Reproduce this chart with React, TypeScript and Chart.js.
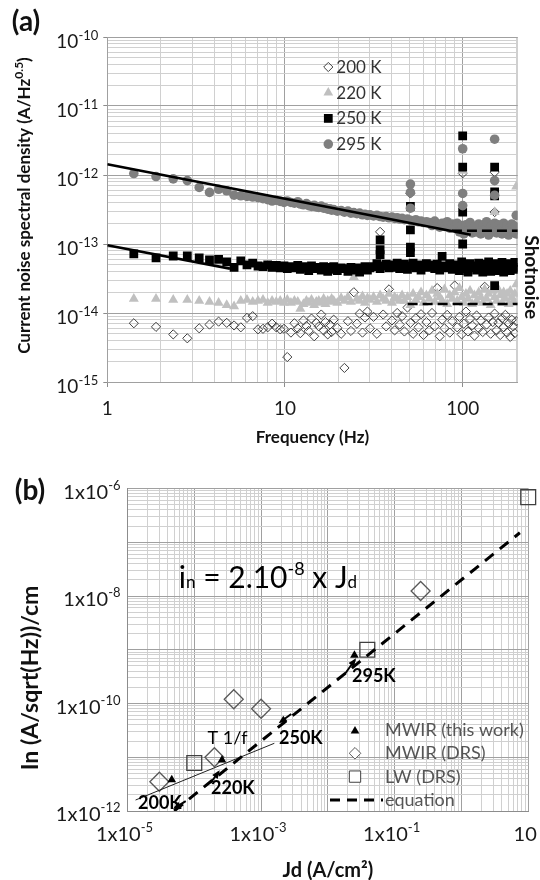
import React, { useEffect, useRef } from 'react';
import { Chart, registerables } from 'chart.js';

Chart.register(...registerables);

const FAMILY = 'Lato, "Open Sans", "DejaVu Sans", sans-serif';

// ---------------- Panel (a) : current noise spectral density ----------------
const FREQ_HZ = [
  1.41, 1.88, 2.35, 2.82, 3.29, 3.76, 4.23, 4.70, 5.17, 5.64,
  6.11, 6.58, 7.05, 7.52, 7.99, 8.46, 8.93, 9.40, 9.87, 10.3,
  10.8, 11.3, 11.8, 12.2, 12.7, 13.2, 13.6, 14.1, 14.6, 15.0,
  15.5, 16.0, 16.5, 16.9, 17.4, 17.9, 18.3, 18.8, 19.7, 20.7,
  21.6, 22.6, 23.5, 24.4, 25.4, 26.3, 27.3, 28.2, 29.1, 30.1,
  31.5, 32.9, 34.3, 35.7, 37.1, 38.5, 40.0, 41.4, 42.8, 44.2,
  45.6, 47.0, 48.9, 50.8, 52.6, 54.5, 56.4, 58.3, 60.2, 62.5,
  64.9, 67.2, 69.6, 71.9, 74.3, 76.6, 79.0, 81.8, 84.6, 87.4,
  90.2, 93.1, 95.9, 98.7, 101.5, 104.3, 107.1, 110.0, 113.2, 116.5,
  119.8, 123.1, 126.4, 129.7, 133.0, 136.3, 140.0, 143.8, 147.6, 151.3,
  155.1, 158.8, 162.6, 166.4, 170.1, 173.9, 177.7, 181.4, 185.2, 189.0,
  192.7, 196.5, 200.2,
];

// values in fA/Hz^0.5 (1e-15 A/Hz^0.5)
const NOISE_295K_FA = [
  1050, 950, 880, 830, 660, 560, 620, 590, 510, 500,
  490, 480, 470, 455, 440, 420, 430, 415, 400, 420,
  400, 390, 410, 380, 370, 385, 360, 350, 365, 345,
  340, 355, 330, 335, 320, 325, 310, 315, 300, 305,
  290, 300, 280, 285, 275, 280, 265, 270, 260, 265,
  255, 260, 250, 245, 250, 240, 245, 235, 240, 230,
  235, 225, 230, 220, 215, 225, 210, 215, 205, 210,
  205, 185, 215, 190, 175, 200, 180, 210, 170, 195,
  175, 200, 150, 185, 140, 190, 160, 205, 145, 180,
  150, 195, 140, 185, 160, 210, 135, 180, 155, 200,
  145, 190, 165, 140, 200, 155, 185, 135, 175, 195,
  150, 180, 140,
];
const NOISE_250K_FA = [
  72, 63, 67, 67, 63, 59, 60, 55, 46, 57,
  50, 53, 48, 47, 50, 46, 49, 45, 48, 44,
  47, 45, 49, 43, 47, 45, 41, 48, 44, 46,
  45, 42, 47, 44, 40, 46, 43, 47, 41, 45,
  44, 40, 46, 42, 45, 39, 44, 47, 42, 45,
  47, 52, 44, 48, 51, 45, 50, 46, 53, 44,
  49, 51, 43, 48, 53, 45, 50, 42, 49, 52,
  46, 50, 44, 51, 42, 66, 48, 45, 52, 43,
  50, 46, 41, 55, 44, 49, 39, 52, 45, 48,
  42, 53, 47, 39, 51, 44, 55, 40, 49, 46,
  52, 41, 48, 54, 39, 50, 44, 52, 41, 50,
  46, 54, 43,
];
const NOISE_220K_FA = [
  16, 16, 15.5, 15.5, 15, 14.5, 14, 13, 12.5, 15,
  15.5, 14.5, 15, 15.5, 14, 15, 14.5, 15, 14, 15.5,
  14, 15, 14.5, 11.5, 13.5, 15, 14, 15.5, 13, 14.5,
  15, 14, 16, 13.5, 15, 14.5, 16, 15, 14, 16.5,
  15, 17, 14.5, 33, 16, 15, 17.5, 14, 16.5, 15.5,
  17, 14.5, 18, 16, 15, 19, 14, 17, 16, 15,
  18, 15, 17, 13, 19, 15.5, 17, 20, 14, 18,
  16, 21, 14.5, 19, 17, 15, 22, 13.5, 18, 16,
  20, 15, 23, 17, 14, 19, 16, 21, 13.5, 18,
  15, 20, 17, 14, 22, 16, 19, 13, 21, 17,
  15, 22, 18, 14, 20, 16, 19, 13.5, 21, 17,
  15, 19, 26,
];
const NOISE_200K_FA = [
  7.1, 6.3, 4.9, 4.3, 6.0, 6.8, 7.5, 7.2, 6.6, 6.2,
  8.5, 9.0, 5.8, 5.9, 6.2, 7.0, 6.2, 5.8, 5.9, 2.3,
  5.2, 7.1, 6.0, 5.1, 7.8, 6.5, 5.5, 8.3, 4.6, 7.2,
  6.4, 9.5, 5.6, 7.4, 4.9, 6.8, 5.3, 8.0, 6.1, 5.0,
  1.6, 7.6, 5.5, 20, 7.0, 9.8, 5.2, 8.6, 10.5, 6.0,
  8.8, 5.0, 150, 9.5, 6.4, 22, 7.8, 5.6, 10, 6.8,
  9.0, 5.4, 12, 7.2, 5.0, 8.4, 6.2, 9.6, 4.8, 7.4,
  5.6, 10, 6.4, 23, 4.6, 8.0, 6.0, 9.4, 5.2, 7.6,
  25, 6.2, 8.8, 4.9, 7.0, 10.5, 5.4, 8.2, 6.6, 4.7,
  9.2, 6.0, 7.8, 5.3, 24, 6.8, 8.6, 5.0, 7.4, 9.8,
  5.6, 7.2, 4.8, 8.4, 6.2, 9.4, 5.2, 7.0, 4.5, 8.0,
  6.4, 5.1, 7.6,
];

// mains-harmonic spikes (Hz, fA/Hz^0.5)
const SPIKE_200K_HZ = [50.8, 100, 151.3, 151.3];
const SPIKE_200K_FA = [540, 1060, 290, 1100];
const SPIKE_220K_HZ = [100, 151.3, 200.2];
const SPIKE_220K_FA = [1150, 290, 680];
const SPIKE_250K_HZ = [34.3, 34.3, 34.3, 50.8, 50.8, 50.8, 50.8, 100, 100, 100, 100, 151.3, 151.3, 151.3, 151.3];
const SPIKE_250K_FA = [115, 83, 70, 350, 160, 90, 75, 3700, 1300, 290, 100, 1300, 570, 500, 25];
const SPIKE_295K_HZ = [50.8, 50.8, 50.8, 100, 100, 100, 151.3, 151.3, 151.3, 200.2];
const SPIKE_295K_FA = [740, 560, 330, 2400, 540, 360, 3300, 830, 510, 260];

// fit lines (Hz, A/Hz^0.5)
const FIT_295K_HZ = [1, 111];
const FIT_295K_A = [1.43e-12, 1.36e-13];
const FIT_250K_HZ = [1, 4.9];
const FIT_250K_A = [9.6e-14, 4.4e-14];
const SHOT_295K_HZ = [87, 204];
const SHOT_295K_A = [1.55e-13, 1.55e-13];
const SHOT_220K_HZ = [49, 204];
const SHOT_220K_A = [1.35e-14, 1.35e-14];

const A_LEGEND = ['200 K', '220 K', '250 K', '295 K'];
const A_X_TICKS = [1, 10, 100];
const A_X_LABELS = ['1', '10', '100'];
const A_Y_TICKS = [1e-10, 1e-11, 1e-12, 1e-13, 1e-14, 1e-15];
const A_Y_EXPONENTS = ['-10', '-11', '-12', '-13', '-14', '-15'];
const A_SHOTNOISE_Y = 3.3e-14;

// ---------------- Panel (b) : noise vs dark current ----------------
const B_MWIR_THIS_JD = [4.6e-5, 2.6e-4, 2.5e-2];
const B_MWIR_THIS_IN = [3.8e-12, 8.9e-12, 7.9e-10];
const B_MWIR_DRS_JD = [3.0e-5, 2.0e-4, 3.9e-4, 1.0e-3, 0.245];
const B_MWIR_DRS_IN = [3.5e-12, 1.0e-11, 1.2e-10, 8.0e-11, 1.24e-8];
const B_LW_DRS_JD = [1.0e-4, 0.039, 10];
const B_LW_DRS_IN = [7.8e-12, 1.0e-9, 6.9e-7];
const B_EQ_JD = [5e-5, 7.5];
const B_EQ_IN = [1e-12, 1.5e-7];
const B_T1F_JD = [1.32e-5, 1.58e-3];
const B_T1F_IN = [1.6e-12, 1.82e-11];

const B_LEGEND = ['MWIR (this work)', 'MWIR (DRS)', 'LW (DRS)', 'equation'];
const B_X_TICKS = [1e-5, 1e-3, 1e-1, 10];
const B_X_BASES = ['1x10', '1x10', '1x10', '10'];
const B_X_EXPONENTS = ['-5', '-3', '-1', ''];
const B_Y_TICKS = [1e-6, 1e-8, 1e-10, 1e-12];
const B_Y_EXPONENTS = ['-6', '-8', '-10', '-12'];

const B_TEMP_LABELS = ['200K', '220K', '250K', '295K'];
const B_TEMP_LABEL_JD = [3.05e-5, 3.78e-4, 3.94e-3, 0.0489];
const B_TEMP_LABEL_IN = [1.49e-12, 2.83e-12, 2.4e-11, 3.4e-10];
const B_ARROW_TAIL_JD = [7.45e-5, 1.75e-4, 2.83e-3, 0.018];
const B_ARROW_TAIL_IN = [1.53e-12, 3.32e-12, 6.38e-11, 3.54e-10];
const B_ARROW_HEAD_JD = [5.1e-5, 2.31e-4, 1.94e-3, 0.0254];
const B_ARROW_HEAD_IN = [1.14e-12, 5.32e-12, 4.53e-11, 6.45e-10];
const B_T1F_LABEL = 'T 1/f';
const B_T1F_LABEL_POS = [3.15e-4, 2.4e-11];
const B_EQ_TEXT_POS = [5.86e-5, 2.25e-8];

// ---------------- helpers ----------------
const FA = 1e-15;
const pts = (xs: number[], ys: number[], k = 1) => xs.map((x, i) => ({ x, y: ys[i] * k }));

function logGrid(minExp: number, maxExp: number): number[] {
  const out: number[] = [];
  for (let e = minExp; e < maxExp; e++) {
    for (let k = 1; k <= 9; k++) out.push(k * Math.pow(10, e));
  }
  out.push(Math.pow(10, maxExp));
  return out;
}
const isDecade = (v: number) => {
  const l = Math.log10(v);
  return Math.abs(l - Math.round(l)) < 1e-9;
};

type Part = { t: string; size: number; dy?: number };
function drawParts(ctx: CanvasRenderingContext2D, parts: Part[], x: number, y: number, align: 'left' | 'center' | 'right', weight: string) {
  let total = 0;
  const widths = parts.map((p) => {
    ctx.font = `${weight} ${p.size}px ${FAMILY}`;
    const w = ctx.measureText(p.t).width;
    total += w;
    return w;
  });
  let cx = align === 'right' ? x - total : align === 'center' ? x - total / 2 : x;
  ctx.textAlign = 'left';
  ctx.textBaseline = 'alphabetic';
  parts.forEach((p, i) => {
    ctx.font = `${weight} ${p.size}px ${FAMILY}`;
    ctx.fillText(p.t, cx, y + (p.dy || 0));
    cx += widths[i];
  });
}

function drawMarker(ctx: CanvasRenderingContext2D, style: string, x: number, y: number, r: number, fill: string | null, stroke: string | null, lw = 1) {
  ctx.beginPath();
  if (style === 'circle') {
    ctx.arc(x, y, r, 0, Math.PI * 2);
  } else if (style === 'rect') {
    const s = Math.SQRT1_2 * r;
    ctx.rect(x - s, y - s, 2 * s, 2 * s);
  } else if (style === 'rectRot') {
    ctx.moveTo(x - r, y);
    ctx.lineTo(x, y - r);
    ctx.lineTo(x + r, y);
    ctx.lineTo(x, y + r);
    ctx.closePath();
  } else if (style === 'triangle') {
    ctx.moveTo(x, y - r);
    ctx.lineTo(x + r * 0.866, y + r * 0.5);
    ctx.lineTo(x - r * 0.866, y + r * 0.5);
    ctx.closePath();
  }
  if (fill) {
    ctx.fillStyle = fill;
    ctx.fill();
  }
  if (stroke) {
    ctx.strokeStyle = stroke;
    ctx.lineWidth = lw;
    ctx.stroke();
  }
}

function drawArrow(ctx: CanvasRenderingContext2D, x1: number, y1: number, x2: number, y2: number) {
  const ang = Math.atan2(y2 - y1, x2 - x1);
  ctx.beginPath();
  ctx.moveTo(x1, y1);
  ctx.lineTo(x2, y2);
  ctx.strokeStyle = '#000';
  ctx.lineWidth = 2;
  ctx.stroke();
  ctx.beginPath();
  ctx.moveTo(x2 + Math.cos(ang) * 2, y2 + Math.sin(ang) * 2);
  ctx.lineTo(x2 - Math.cos(ang - 0.5) * 7, y2 - Math.sin(ang - 0.5) * 7);
  ctx.lineTo(x2 - Math.cos(ang + 0.5) * 7, y2 - Math.sin(ang + 0.5) * 7);
  ctx.closePath();
  ctx.fillStyle = '#000';
  ctx.fill();
}

const A_X_GRID = [...logGrid(0, 2), 200, 204];
const A_Y_GRID = logGrid(-15, -10);
const B_X_GRID = logGrid(-5, 1);
const B_Y_GRID = logGrid(-12, -6);

const A_HEIGHT = 450;
const B_TOP = 450;
const B_HEIGHT = 430;

// ---------------- Panel (a) chart ----------------
const A_MARKERS = [
  { style: 'rectRot', r: 4.6, fill: null, stroke: '#404040' },
  { style: 'triangle', r: 5.6, fill: '#bfbfbf', stroke: null },
  { style: 'rect', r: 6.2, fill: '#000000', stroke: null },
  { style: 'circle', r: 4.8, fill: '#7f7f7f', stroke: null },
];

const panelAPlugin = {
  id: 'panelA',
  afterDraw(chart: any) {
    const ctx: CanvasRenderingContext2D = chart.ctx;
    const xs = chart.scales.x;
    const ys = chart.scales.y;
    const ca = chart.chartArea;
    ctx.save();
    ctx.fillStyle = '#1a1a1a';
    A_Y_TICKS.forEach((v, i) => {
      const y = ys.getPixelForValue(v);
      drawParts(ctx, [{ t: '10', size: 19 }, { t: A_Y_EXPONENTS[i], size: 13, dy: -8 }], ca.left - 9, y + 11, 'right', 'normal');
    });
    A_X_TICKS.forEach((v, i) => {
      const x = xs.getPixelForValue(v);
      drawParts(ctx, [{ t: A_X_LABELS[i], size: 19 }], x, ca.bottom + 33, 'center', 'normal');
    });
    ctx.fillStyle = '#111';
    drawParts(ctx, [{ t: 'Frequency (Hz)', size: 17 }], (ca.left + ca.right) / 2, ca.bottom + 61, 'center', 'bold');
    ctx.save();
    ctx.translate(30, (ca.top + ca.bottom) / 2 - 4);
    ctx.rotate(-Math.PI / 2);
    drawParts(ctx, [
      { t: 'Current noise spectral density (A/Hz', size: 17 },
      { t: '0.5', size: 12, dy: -7 },
      { t: ')', size: 17 },
    ], 0, 0, 'center', 'bold');
    ctx.restore();
    // panel letter
    drawParts(ctx, [{ t: '(a)', size: 28 }], 26, 31, 'center', 'bold');
    // legend
    A_LEGEND.forEach((label, i) => {
      const y = ca.top + 30 + i * 25.7;
      const m = A_MARKERS[i];
      drawMarker(ctx, m.style, ca.left + 221, y, m.r, m.fill, m.stroke, 1);
      ctx.fillStyle = '#333';
      drawParts(ctx, [{ t: label, size: 17 }], ca.left + 229, y + 6, 'left', 'normal');
    });
    // Shotnoise
    ctx.save();
    ctx.fillStyle = '#111';
    ctx.translate(ca.right + 7, ys.getPixelForValue(A_SHOTNOISE_Y));
    ctx.rotate(Math.PI / 2);
    drawParts(ctx, [{ t: 'Shotnoise', size: 19 }], 0, 0, 'center', 'bold');
    ctx.restore();
    ctx.restore();
  },
};

function panelAConfig(): any {
  const gridCol = (c: any) => (c.tick && isDecade(c.tick.value) ? '#a0a0a0' : '#d0d0d0');
  const tickCol = (c: any) => (c.tick && isDecade(c.tick.value) ? '#8c8c8c' : 'rgba(0,0,0,0)');
  return {
    type: 'scatter',
    data: {
      datasets: [
        { label: 'fit 295K', data: pts(FIT_295K_HZ, FIT_295K_A), showLine: true, borderColor: '#000', borderWidth: 2.6, pointRadius: 0, order: 0 },
        { label: 'fit 250K', data: pts(FIT_250K_HZ, FIT_250K_A), showLine: true, borderColor: '#000', borderWidth: 2.6, pointRadius: 0, order: 0 },
        { label: 'shot 295K', data: pts(SHOT_295K_HZ, SHOT_295K_A), showLine: true, borderColor: '#000', borderWidth: 2.5, borderDash: [10, 5], pointRadius: 0, order: 0 },
        { label: 'shot 220K', data: pts(SHOT_220K_HZ, SHOT_220K_A), showLine: true, borderColor: '#000', borderWidth: 2.5, borderDash: [10, 5], pointRadius: 0, order: 0 },
        {
          label: '295 K', data: [...pts(FREQ_HZ, NOISE_295K_FA, FA), ...pts(SPIKE_295K_HZ, SPIKE_295K_FA, FA)],
          pointStyle: 'circle', pointRadius: 4.8, backgroundColor: '#7f7f7f', borderColor: '#7f7f7f', borderWidth: 0, order: 1,
        },
        {
          label: '250 K', data: [...pts(FREQ_HZ, NOISE_250K_FA, FA), ...pts(SPIKE_250K_HZ, SPIKE_250K_FA, FA)],
          pointStyle: 'rect', pointRadius: 6.2, backgroundColor: '#000', borderColor: '#000', borderWidth: 0, order: 2,
        },
        {
          label: '220 K', data: [...pts(FREQ_HZ, NOISE_220K_FA, FA), ...pts(SPIKE_220K_HZ, SPIKE_220K_FA, FA)],
          pointStyle: 'triangle', pointRadius: 5.8, backgroundColor: '#c0c0c0', borderColor: '#c0c0c0', borderWidth: 0, order: 3,
        },
        {
          label: '200 K', data: [...pts(FREQ_HZ, NOISE_200K_FA, FA), ...pts(SPIKE_200K_HZ, SPIKE_200K_FA, FA)],
          pointStyle: 'rectRot', pointRadius: 4.6, backgroundColor: 'rgba(255,255,255,0)', borderColor: '#404040', borderWidth: 1, order: 4,
        },
      ],
    },
    options: {
      responsive: false,
      animation: false,
      devicePixelRatio: 1,
      layout: { padding: { top: 37, right: 22.3, bottom: 0, left: 0 } },
      plugins: { legend: { display: false }, tooltip: { enabled: false } },
      scales: {
        x: {
          type: 'logarithmic', min: 1, max: 204,
          afterBuildTicks: (s: any) => { s.ticks = A_X_GRID.map((v) => ({ value: v })); },
          afterFit: (s: any) => { s.height = A_HEIGHT - 382; },
          ticks: { display: false },
          grid: { color: gridCol, tickColor: tickCol, tickLength: 5, lineWidth: 1 },
          border: { color: '#a0a0a0' },
        },
        y: {
          type: 'logarithmic', min: 1e-15, max: 1e-10,
          afterBuildTicks: (s: any) => { s.ticks = A_Y_GRID.map((v) => ({ value: v })); },
          afterFit: (s: any) => { s.width = 107.3; },
          ticks: { display: false },
          grid: { color: gridCol, tickColor: tickCol, tickLength: 4, lineWidth: 1 },
          border: { color: '#a0a0a0' },
        },
      },
    },
    plugins: [panelAPlugin],
  };
}

// ---------------- Panel (b) chart ----------------
const panelBPlugin = {
  id: 'panelB',
  afterDraw(chart: any) {
    const ctx: CanvasRenderingContext2D = chart.ctx;
    const xs = chart.scales.x;
    const ys = chart.scales.y;
    const ca = chart.chartArea;
    ctx.save();
    ctx.fillStyle = '#1a1a1a';
    B_Y_TICKS.forEach((v, i) => {
      const y = ys.getPixelForValue(v);
      drawParts(ctx, [{ t: '1x10', size: 20 }, { t: B_Y_EXPONENTS[i], size: 13, dy: -9 }], ca.left - 7, y + 10, 'right', 'normal');
    });
    B_X_TICKS.forEach((v, i) => {
      const x = xs.getPixelForValue(v);
      const parts: Part[] = [{ t: B_X_BASES[i], size: 20 }];
      if (B_X_EXPONENTS[i]) parts.push({ t: B_X_EXPONENTS[i], size: 13, dy: -9 });
      drawParts(ctx, parts, x - 3, ca.bottom + 30, 'center', 'normal');
    });
    ctx.fillStyle = '#111';
    drawParts(ctx, [{ t: 'Jd (A/cm\u00B2)', size: 20 }], (ca.left + ca.right) / 2, ca.bottom + 66, 'center', 'bold');
    ctx.save();
    ctx.translate(38, 678 - B_TOP);
    ctx.rotate(-Math.PI / 2);
    drawParts(ctx, [{ t: 'In (A/sqrt(Hz))/cm', size: 23 }], 0, 0, 'center', 'bold');
    ctx.restore();
    drawParts(ctx, [{ t: '(b)', size: 28 }], 30, 500 - B_TOP, 'center', 'bold');

    // equation text
    ctx.fillStyle = '#000';
    const ex = xs.getPixelForValue(B_EQ_TEXT_POS[0]);
    const ey = ys.getPixelForValue(B_EQ_TEXT_POS[1]);
    drawParts(ctx, [
      { t: 'i', size: 30 },
      { t: 'n', size: 17, dy: 0 },
      { t: ' = 2.10', size: 30 },
      { t: '-8', size: 18, dy: -13 },
      { t: ' x J', size: 30 },
      { t: 'd', size: 17 },
    ], ex, ey + 11, 'left', 'normal');

    // temperature labels + arrows
    B_TEMP_LABELS.forEach((t, i) => {
      const x = xs.getPixelForValue(B_TEMP_LABEL_JD[i]);
      const y = ys.getPixelForValue(B_TEMP_LABEL_IN[i]);
      ctx.fillStyle = '#000';
      drawParts(ctx, [{ t, size: 18 }], x, y + 7, 'center', 'bold');
      drawArrow(ctx,
        xs.getPixelForValue(B_ARROW_TAIL_JD[i]), ys.getPixelForValue(B_ARROW_TAIL_IN[i]),
        xs.getPixelForValue(B_ARROW_HEAD_JD[i]), ys.getPixelForValue(B_ARROW_HEAD_IN[i]));
    });
    ctx.fillStyle = '#000';
    drawParts(ctx, [{ t: B_T1F_LABEL, size: 18 }], xs.getPixelForValue(B_T1F_LABEL_POS[0]), ys.getPixelForValue(B_T1F_LABEL_POS[1]) + 7, 'center', 'normal');

    // legend
    const lx = 355;
    B_LEGEND.forEach((label, i) => {
      const y = ca.top + 241.5 + i * 23.3;
      if (i === 0) drawMarker(ctx, 'triangle', lx, y + 1, 5, '#000', null);
      if (i === 1) drawMarker(ctx, 'rectRot', lx, y, 5.8, '#fff', '#595959', 1);
      if (i === 2) drawMarker(ctx, 'rect', lx, y, 8, '#fff', '#404040', 1);
      if (i === 3) {
        ctx.save();
        ctx.beginPath();
        ctx.setLineDash([10, 7]);
        ctx.moveTo(330, y);
        ctx.lineTo(383, y);
        ctx.strokeStyle = '#000';
        ctx.lineWidth = 3;
        ctx.stroke();
        ctx.restore();
      }
      ctx.fillStyle = '#555';
      drawParts(ctx, [{ t: label, size: 18 }], 385, y + 6, 'left', 'normal');
    });
    ctx.restore();
  },
};

function panelBConfig(): any {
  const gridCol = (c: any) => (c.tick && isDecade(c.tick.value) ? '#a0a0a0' : '#d0d0d0');
  return {
    type: 'scatter',
    data: {
      datasets: [
        { label: 'equation', data: pts(B_EQ_JD, B_EQ_IN), showLine: true, borderColor: '#000', borderWidth: 3, borderDash: [11, 8], pointRadius: 0, order: 0 },
        { label: 'T 1/f', data: pts(B_T1F_JD, B_T1F_IN), showLine: true, borderColor: '#222', borderWidth: 1, pointRadius: 0, order: 0 },
        { label: 'MWIR (this work)', data: pts(B_MWIR_THIS_JD, B_MWIR_THIS_IN), pointStyle: 'triangle', pointRadius: 5, backgroundColor: '#000', borderColor: '#000', borderWidth: 0, order: 1 },
        { label: 'MWIR (DRS)', data: pts(B_MWIR_DRS_JD, B_MWIR_DRS_IN), pointStyle: 'rectRot', pointRadius: 9.5, backgroundColor: 'rgba(255,255,255,0)', borderColor: '#595959', borderWidth: 1.3, order: 2 },
        { label: 'LW (DRS)', data: pts(B_LW_DRS_JD, B_LW_DRS_IN), pointStyle: 'rect', pointRadius: 10.5, backgroundColor: 'rgba(255,255,255,0)', borderColor: '#404040', borderWidth: 1.3, order: 3, clip: false },
      ],
    },
    options: {
      responsive: false,
      animation: false,
      devicePixelRatio: 1,
      layout: { padding: { top: 488.5 - B_TOP, right: 11, bottom: 0, left: 0 } },
      plugins: { legend: { display: false }, tooltip: { enabled: false } },
      scales: {
        x: {
          type: 'logarithmic', min: 1e-5, max: 10,
          afterBuildTicks: (s: any) => { s.ticks = B_X_GRID.map((v) => ({ value: v })); },
          afterFit: (s: any) => { s.height = 69; },
          ticks: { display: false },
          grid: { color: gridCol, drawTicks: false, lineWidth: 1 },
          border: { color: '#8c8c8c' },
        },
        y: {
          type: 'logarithmic', min: 1e-12, max: 1e-6,
          afterBuildTicks: (s: any) => { s.ticks = B_Y_GRID.map((v) => ({ value: v })); },
          afterFit: (s: any) => { s.width = 127.5; },
          ticks: { display: false },
          grid: { color: gridCol, drawTicks: false, lineWidth: 1 },
          border: { color: '#8c8c8c' },
        },
      },
    },
    plugins: [panelBPlugin],
  };
}

export default function App() {
  const refA = useRef<HTMLCanvasElement>(null);
  const refB = useRef<HTMLCanvasElement>(null);
  useEffect(() => {
    const a = new Chart(refA.current as HTMLCanvasElement, panelAConfig());
    const b = new Chart(refB.current as HTMLCanvasElement, panelBConfig());
    return () => {
      a.destroy();
      b.destroy();
    };
  }, []);
  return (
    <div style={{ position: 'absolute', left: 0, top: 0, width: 540, height: 880, background: '#fff', overflow: 'hidden' }}>
      <canvas ref={refA} width={540} height={A_HEIGHT} style={{ position: 'absolute', left: 0, top: 0, width: 540, height: A_HEIGHT }} />
      <canvas ref={refB} width={540} height={B_HEIGHT} style={{ position: 'absolute', left: 0, top: B_TOP, width: 540, height: B_HEIGHT }} />
    </div>
  );
}
